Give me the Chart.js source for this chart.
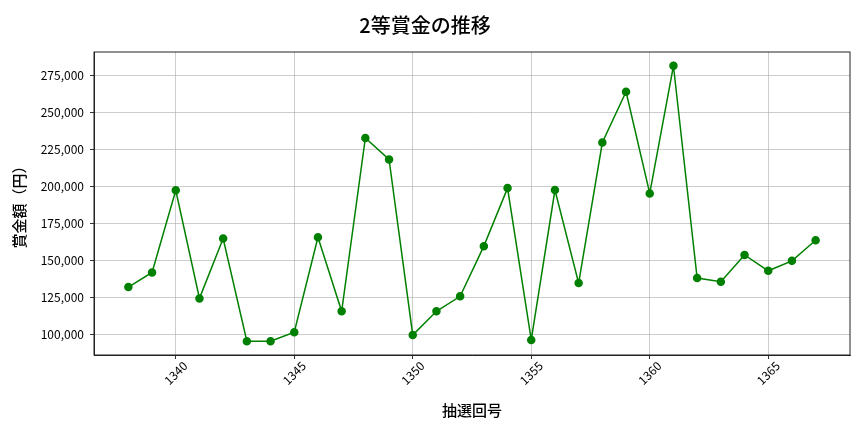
<!DOCTYPE html>
<html>
<head>
<meta charset="utf-8">
<script src="https://cdn.jsdelivr.net/npm/chart.js@4"></script>
<style>
  body { margin: 0; background: #fff; }
  #wrap { width: 864px; height: 432px; }
</style>
</head>
<body>
<div id="wrap"><canvas id="myChart"></canvas></div>
<script>
// DATA
var drawNumbers = [1338,1339,1340,1341,1342,1343,1344,1345,1346,1347,1348,1349,1350,1351,1352,
  1353,1354,1355,1356,1357,1358,1359,1360,1361,1362,1363,1364,1365,1366,1367];
var prizeValues = [132200,142100,197400,124600,164900,95800,95800,101800,165800,115900,232700,218200,99900,115900,126000,
  159800,198900,96600,197600,134900,229600,263800,195300,281300,138300,135800,153900,143200,149900,163800];
var xTicks = [1340,1345,1350,1355,1360,1365];
var yTicks = [100000,125000,150000,175000,200000,225000,250000,275000];

var FONT = "'Noto Sans CJK JP', 'Noto Sans', sans-serif";

var points = drawNumbers.map(function (n, i) { return { x: n, y: prizeValues[i] }; });

// LINE CHART
const myChart = new Chart("myChart", {
  type: 'line',
  data: {
    datasets: [{
      label: '2等賞金',
      data: points,
      borderColor: 'green',
      backgroundColor: 'green',
      borderWidth: 1.5,
      pointRadius: 3.5,
      pointHoverRadius: 3.5,
      tension: 0
    }]
  },
  options: {
    responsive: true,
    maintainAspectRatio: false,
    animation: false,
    layout: { padding: { left: 0, right: 14, top: 0, bottom: 0 } },
    plugins: {
      legend: { display: false },
      tooltip: { enabled: false },
      title: {
        display: true,
        text: '2等賞金の推移',
        color: '#000',
        font: { family: FONT, size: 20, weight: 500 },
        padding: { top: 13, bottom: 15 }
      }
    },
    scales: {
      x: {
        type: 'linear',
        min: 1336.55,
        max: 1368.45,
        afterBuildTicks: function (axis) { axis.ticks = xTicks.map(function (v) { return { value: v }; }); },
        afterFit: function (axis) { axis.height = 77; },
        ticks: { display: false },
        grid: { color: 'rgba(176,176,176,0.8)', lineWidth: 0.8, tickLength: 4, tickColor: '#000' },
        border: { display: true, color: '#222', width: 1 },
        title: {
          display: true,
          text: '抽選回号',
          color: '#000',
          font: { family: FONT, size: 15, weight: 500 },
          padding: { top: 4, bottom: 13 }
        }
      },
      y: {
        min: 86470,
        max: 290580,
        afterBuildTicks: function (axis) { axis.ticks = yTicks.map(function (v) { return { value: v }; }); },
        afterFit: function (axis) { axis.width = 94; },
        ticks: {
          color: '#000',
          font: { family: FONT, size: 12 },
          padding: 6,
          callback: function (v) { return v.toLocaleString('en-US'); }
        },
        grid: { color: 'rgba(176,176,176,0.8)', lineWidth: 0.8, tickLength: 4, tickColor: '#000' },
        border: { display: true, color: '#222', width: 1 },
        title: {
          display: true,
          text: '賞金額（円）',
          color: '#000',
          font: { family: FONT, size: 15, weight: 500 },
          padding: { top: 10, bottom: 4 }
        }
      }
    }
  },
  plugins: [{
    id: 'frameAndLabels',
    afterDraw: function (chart) {
      var a = chart.chartArea, ctx = chart.ctx;
      var xs = chart.scales.x;
      ctx.save();
      ctx.strokeStyle = '#222';
      ctx.lineWidth = 1;
      ctx.strokeRect(a.left, a.top, a.right - a.left, a.bottom - a.top);
      // rotated x tick labels, centred under the tick
      ctx.fillStyle = '#000';
      ctx.font = '12px ' + FONT;
      ctx.textAlign = 'center';
      ctx.textBaseline = 'middle';
      xTicks.forEach(function (v) {
        ctx.save();
        ctx.translate(xs.getPixelForValue(v), a.bottom + 18);
        ctx.rotate(-Math.PI / 4);
        ctx.fillText(String(v), 0, 0);
        ctx.restore();
      });
      ctx.restore();
    }
  }]
});
</script>
</body>
</html>
